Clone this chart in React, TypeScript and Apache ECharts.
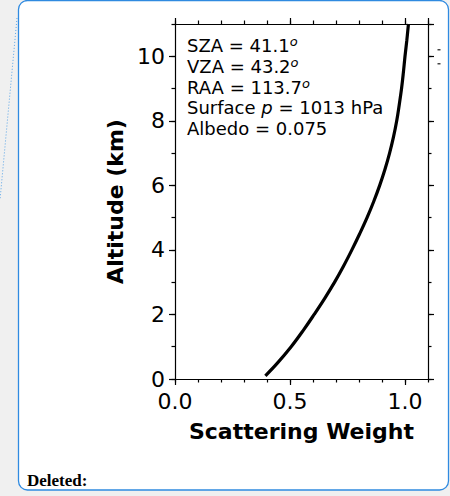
import React, { useEffect, useRef } from "react";
import * as echarts from "echarts";

const altitudes = [0.1, 0.5, 1.0, 1.5, 2.0, 2.5, 3.0, 3.5, 4.0, 4.5, 5.0, 5.5, 6.0, 6.5, 7.0, 7.5, 8.0, 8.5, 9.0, 9.5, 10.0, 10.5, 11.0];
const weights = [0.393, 0.446, 0.505, 0.557, 0.605, 0.651, 0.694, 0.733, 0.769, 0.803, 0.835, 0.864, 0.890, 0.913, 0.933, 0.950, 0.964, 0.975, 0.985, 0.993, 1.0, 1.008, 1.015];

const xTickLabels = ["0.0", "0.5", "1.0"];
const yTickLabels = ["0", "2", "4", "6", "8", "10"];

const annotationLines = [
  "{t|SZA = 41.1}{s|o}",
  "{t|VZA = 43.2}{s|o}",
  "{t|RAA = 113.7}{s|o}",
  "{t|Surface }{i|p}{t| = 1013 hPa}",
  "{t|Albedo = 0.075}",
];

const FONT = "DejaVu Sans";

export default function App() {
  const ref = useRef<HTMLDivElement>(null);
  useEffect(() => {
    if (!ref.current) return;
    const chart = echarts.init(ref.current, null, { renderer: "svg" });
    const axisLineStyle = { color: "#000", width: 1.2 };
    const baseX = { type: "value", min: 0, max: 1.1, splitLine: { show: false } };
    const baseY = { type: "value", min: 0, max: 11, splitLine: { show: false } };
    const data = altitudes.map((a, i) => [weights[i], a]);
    chart.setOption({
      animation: false,
      backgroundColor: "#f0f0f0",
      grid: { left: 175, top: 24, right: 22, bottom: 117, containLabel: false },
      xAxis: [
        {
          ...baseX,
          position: "bottom",
          interval: 0.5,
          axisLine: { show: true, onZero: false, lineStyle: axisLineStyle },
          axisTick: { show: true, inside: false, length: 6, lineStyle: axisLineStyle },
          axisLabel: {
            show: true,
            margin: 12,
            fontSize: 22,
            lineHeight: 20,
            fontFamily: FONT,
            color: "#000",
            showMaxLabel: false,
            formatter: (v: number) => {
              const i = Math.round(v / 0.5);
              return Math.abs(v - i * 0.5) < 1e-6 && i < xTickLabels.length ? xTickLabels[i] : "";
            },
          },
          name: "Scattering Weight",
          nameLocation: "middle",
          nameGap: 41,
          nameTextStyle: { fontSize: 22, fontWeight: "bold", fontFamily: FONT, color: "#000" },
        },
        {
          ...baseX,
          position: "bottom",
          interval: 0.1,
          axisLine: { show: false, onZero: false },
          axisTick: { show: true, inside: false, length: 3.5, lineStyle: axisLineStyle },
          axisLabel: { show: false },
        },
        {
          ...baseX,
          position: "top",
          interval: 0.5,
          axisLine: { show: true, onZero: false, lineStyle: axisLineStyle },
          axisTick: { show: true, inside: false, length: 6, lineStyle: axisLineStyle },
          axisLabel: { show: false },
        },
        {
          ...baseX,
          position: "top",
          interval: 0.1,
          axisLine: { show: false, onZero: false },
          axisTick: { show: true, inside: false, length: 3.5, lineStyle: axisLineStyle },
          axisLabel: { show: false },
        },
      ],
      yAxis: [
        {
          ...baseY,
          position: "left",
          interval: 2,
          axisLine: { show: true, onZero: false, lineStyle: axisLineStyle },
          axisTick: { show: true, inside: false, length: 6, lineStyle: axisLineStyle },
          axisLabel: {
            show: true,
            margin: 10,
            fontSize: 22,
            lineHeight: 20,
            fontFamily: FONT,
            color: "#000",
            showMaxLabel: false,
            formatter: (v: number) => {
              const i = Math.round(v / 2);
              return Math.abs(v - i * 2) < 1e-6 && i < yTickLabels.length ? yTickLabels[i] : "";
            },
          },
          name: "Altitude (km)",
          nameLocation: "middle",
          nameGap: 46,
          nameTextStyle: { fontSize: 22, fontWeight: "bold", fontFamily: FONT, color: "#000" },
        },
        {
          ...baseY,
          position: "left",
          interval: 1,
          axisLine: { show: false, onZero: false },
          axisTick: { show: true, inside: false, length: 3.5, lineStyle: axisLineStyle },
          axisLabel: { show: false },
        },
        {
          ...baseY,
          position: "right",
          interval: 2,
          axisLine: { show: true, onZero: false, lineStyle: axisLineStyle },
          axisTick: { show: true, inside: false, length: 6, lineStyle: axisLineStyle },
          axisLabel: { show: false },
        },
        {
          ...baseY,
          position: "right",
          interval: 1,
          axisLine: { show: false, onZero: false },
          axisTick: { show: true, inside: false, length: 3.5, lineStyle: axisLineStyle },
          axisLabel: { show: false },
        },
      ],
      series: [
        {
          type: "line",
          xAxisIndex: 0,
          yAxisIndex: 0,
          data,
          showSymbol: false,
          smooth: 0.4,
          lineStyle: { color: "#000", width: 3.2 },
          z: 5,
        },
      ],
      graphic: [
        {
          type: "rect",
          z: -10,
          shape: { x: 18.5, y: 0.5, width: 430, height: 489.5, r: 9 },
          style: { fill: "#fff", stroke: "#2f8ae0", lineWidth: 1.3 },
        },
        {
          type: "line",
          z: -10,
          shape: { x1: 17, y1: 18, x2: 0, y2: 200 },
          style: { stroke: "#5aa5e8", lineWidth: 1, lineDash: [1, 2] },
        },
        {
          type: "rect",
          z: 1,
          shape: { x: 437.5, y: 49, width: 3, height: 1.5 },
          style: { fill: "#444" },
        },
        {
          type: "rect",
          z: 1,
          shape: { x: 437.5, y: 63, width: 3, height: 1.5 },
          style: { fill: "#444" },
        },
        {
          type: "text",
          z: 10,
          x: 187,
          y: 35,
          style: {
            text: annotationLines.join("\n"),
            fill: "#000",
            fontFamily: FONT,
            fontSize: 18,
            rich: {
              t: { fontSize: 18, fontFamily: FONT, lineHeight: 20.8, fill: "#000" },
              i: { fontSize: 18, fontFamily: FONT, fontStyle: "italic", lineHeight: 20.8, fill: "#000" },
              s: { fontSize: 13, fontFamily: FONT, fontStyle: "italic", lineHeight: 14, verticalAlign: "top", fill: "#000" },
            },
          },
        },
        {
          type: "text",
          z: 10,
          x: 27,
          y: 480,
          style: {
            text: "Deleted:",
            fill: "#000",
            fontFamily: "Liberation Serif",
            fontWeight: "bold",
            fontSize: 17,
            verticalAlign: "middle",
          },
        },
      ],
    });
    return () => chart.dispose();
  }, []);
  return (
    <div
      ref={ref}
      style={{ position: "absolute", left: 0, top: 0, width: 450, height: 496 }}
    />
  );
}
